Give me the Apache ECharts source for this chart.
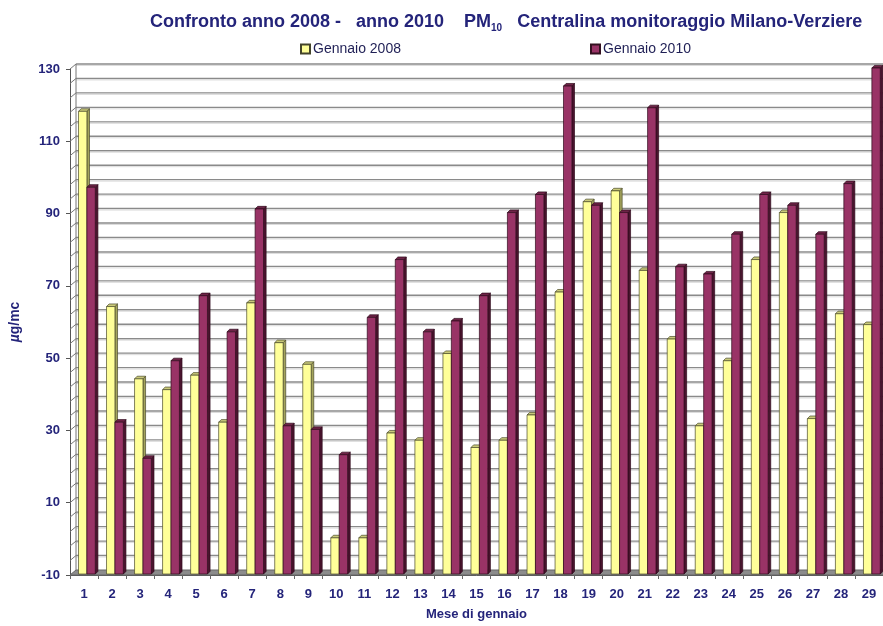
<!DOCTYPE html>
<html><head><meta charset="utf-8">
<script src="https://cdn.jsdelivr.net/npm/echarts@6/dist/echarts.min.js"></script>
<style>html,body{margin:0;padding:0;background:#fff}#c{width:883px;height:626px}</style>
</head><body><div id="c"></div>
<script>
const days = ['1','2','3','4','5','6','7','8','9','10','11','12','13','14','15','16','17','18','19','20','21','22','23','24','25','26','27','28','29'];
const gennaio2008 = [118, 64, 44, 41, 45, 32, 65, 54, 48, 0, 0, 29, 27, 51, 25, 27, 34, 68, 93, 96, 74, 55, 31, 49, 77, 90, 33, 62, 59];
const gennaio2010 = [97, 32, 22, 49, 67, 57, 91, 31, 30, 23, 61, 77, 57, 60, 67, 90, 95, 125, 92, 90, 119, 75, 73, 84, 95, 92, 84, 98, 130];
const yTickLabels = [-10, 10, 30, 50, 70, 90, 110, 130];
const yMin = -10, yMax = 130, gridStep = 4;

const NAVY = '#24247a';
const FONT = 'Liberation Sans';
const DX = 6, DY = 5;
const gridVals = [];
for (let v = yMin; v <= yMax; v += gridStep) gridVals.push(v);

const chart = echarts.init(document.getElementById('c'), null, {renderer: 'canvas'});

function barRenderer(offFrac, front, top, side, stroke) {
  return function (params, api) {
    const i = api.value(0), v = api.value(1);
    const W = api.size([1, 0])[0];
    const p = api.coord([i, v]);
    const b = api.coord([i, yMin]);
    const bw = W * 0.3;
    const x0 = p[0] + offFrac * W + 0.5, x1 = x0 + bw;
    const yt = p[1] - 1, yb = b[1] - 1;
    const d = 2.6;
    return {type: 'group', children: [
      {type: 'polygon', shape: {points: [[x1, yb], [x1, yt], [x1 + d, yt - d], [x1 + d, yb - d]]}, style: {fill: side, stroke: stroke, lineWidth: 0.7}},
      {type: 'polygon', shape: {points: [[x0, yt], [x1, yt], [x1 + d, yt - d], [x0 + d, yt - d]]}, style: {fill: top, stroke: stroke, lineWidth: 0.7}},
      {type: 'rect', shape: {x: x0, y: yt, width: bw, height: yb - yt}, style: {fill: front, stroke: stroke, lineWidth: 0.7}}
    ]};
  };
}

function wallRenderer(params, api) {
  const cs = params.coordSys;
  const L = cs.x, R = cs.x + cs.width;
  const B = api.coord([0, yMin])[1];
  const T = api.coord([0, yMax])[1];
  const ch = [];
  ch.push({type: 'polygon', shape: {points: [[L, B], [R, B], [R + DX, B - DY], [L + DX, B - DY]]}, style: {fill: '#8c8c8c', stroke: '#666', lineWidth: 1}});
  gridVals.forEach(function (v) {
    if (v === yMin) return;
    const y = api.coord([0, v])[1];
    ch.push({type: 'line', shape: {x1: L + DX, y1: y - DY, x2: R + DX, y2: y - DY}, style: {stroke: '#8a8a8a', lineWidth: 1.4}});
    ch.push({type: 'line', shape: {x1: L + DX, y1: y - DY + 1.5, x2: R + DX, y2: y - DY + 1.5}, style: {stroke: '#dcdcdc', lineWidth: 1}});
    ch.push({type: 'line', shape: {x1: L, y1: y, x2: L + DX, y2: y - DY}, style: {stroke: '#777', lineWidth: 1}});
  });
  ch.push({type: 'line', shape: {x1: L + DX, y1: T - DY, x2: L + DX, y2: B - DY}, style: {stroke: '#777', lineWidth: 1}});
  return {type: 'group', children: ch};
}

const option = {
  backgroundColor: '#ffffff',
  animation: false,
  title: {
    text: 'Confronto anno 2008 -   anno 2010    PM{s|10}   Centralina monitoraggio Milano-Verziere',
    left: 145, top: 6,
    textStyle: {
      fontFamily: FONT, fontWeight: 'bold', fontSize: 18, color: NAVY, lineHeight: 22,
      rich: {s: {fontFamily: FONT, fontWeight: 'bold', fontSize: 10, color: NAVY, lineHeight: 12, verticalAlign: 'bottom'}}
    }
  },
  legend: [
    {data: ['Gennaio 2008'], left: 295, top: 37, icon: 'rect', itemWidth: 9, itemHeight: 9,
     textStyle: {fontFamily: FONT, fontSize: 14, color: '#1f1f55', padding: [0, 0, 0, -2]}},
    {data: ['Gennaio 2010'], left: 585, top: 37, icon: 'rect', itemWidth: 9, itemHeight: 9,
     textStyle: {fontFamily: FONT, fontSize: 14, color: '#1f1f55', padding: [0, 0, 0, -2]}}
  ],
  grid: {left: 69.6, right: -1.8, top: 69, bottom: 51, containLabel: false},
  xAxis: {
    type: 'category', data: days, boundaryGap: true,
    axisLine: {onZero: false, lineStyle: {color: '#555', width: 1}},
    axisTick: {show: true, length: 4, lineStyle: {color: '#666'}},
    axisLabel: {fontFamily: FONT, fontWeight: 'bold', fontSize: 13, color: NAVY, margin: 13},
    name: 'Mese di gennaio', nameLocation: 'middle', nameGap: 33,
    nameTextStyle: {fontFamily: FONT, fontWeight: 'bold', fontSize: 13, color: NAVY},
    splitLine: {show: false}
  },
  yAxis: {
    type: 'value', min: yMin, max: yMax,
    axisLine: {show: true, lineStyle: {color: '#555', width: 1}},
    axisTick: {show: true, length: 4, customValues: yTickLabels, lineStyle: {color: '#555'}},
    axisLabel: {customValues: yTickLabels, fontFamily: FONT, fontWeight: 'bold', fontSize: 13, color: NAVY, margin: 10},
    splitLine: {show: false},
    name: '{mu|µ}g/mc', nameLocation: 'middle', nameGap: 48, nameRotate: 90,
    nameTextStyle: {fontFamily: FONT, fontWeight: 'bold', fontSize: 14, color: NAVY, padding: [0, 0, 0, 0],
      rich: {mu: {fontFamily: FONT, fontWeight: 'bold', fontStyle: 'italic', fontSize: 14, color: NAVY}}}
  },
  series: [
    {type: 'custom', name: 'wall', silent: true, z: 1, renderItem: wallRenderer, data: [[0, yMin]], clip: false},
    {type: 'custom', name: 'Gennaio 2008', z: 2, itemStyle: {color: '#ffff99', borderColor: '#44442a', borderWidth: 1},
     renderItem: barRenderer(-0.215, '#ffff99', '#c9c97a', '#a3a35c', '#4a4a2a'),
     data: gennaio2008.map(function (v, i) { return [i, v]; }), encode: {x: 0, y: 1}},
    {type: 'custom', name: 'Gennaio 2010', z: 3, itemStyle: {color: '#993366', borderColor: '#33101f', borderWidth: 1},
     renderItem: barRenderer(0.085, '#993366', '#6e2347', '#4a142e', '#2e0a1b'),
     data: gennaio2010.map(function (v, i) { return [i, v]; }), encode: {x: 0, y: 1}}
  ]
};
chart.setOption(option);
</script>
</body></html>
